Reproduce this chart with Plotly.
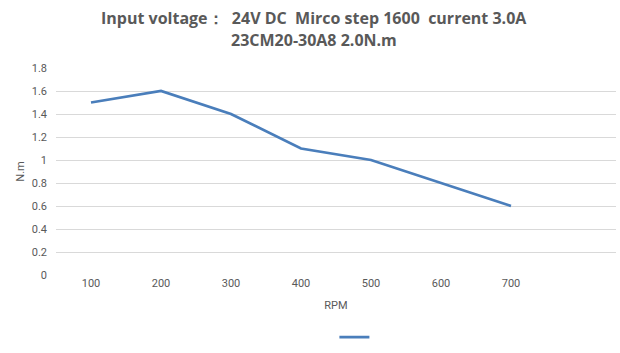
import plotly.graph_objects as go

rpm = ["100", "200", "300", "400", "500", "600", "700"]
torque = [1.5, 1.6, 1.4, 1.1, 1.0, 0.8, 0.6]
y_ticks = [0, 0.2, 0.4, 0.6, 0.8, 1.0, 1.2, 1.4, 1.6, 1.8]
y_labels = ["0", "0.2", "0.4", "0.6", "0.8", "1", "1.2", "1.4", "1.6", "1.8"]

title_lines = ["Input voltage：  24V DC  Mirco step 1600  current 3.0A", "23CM20-30A8 2.0N.m"]

fig = go.Figure()
fig.add_trace(go.Scatter(
    x=rpm, y=torque, mode="lines", name=" ",
    line=dict(color="#4A7EBB", width=2.75),
    showlegend=True,
))

grey = "#595959"
title_font = dict(size=16, color=grey, family="Open Sans, sans-serif", weight="bold")
for text, ypos in zip(title_lines, [1.2415, 1.135]):
    fig.add_annotation(text=text, xref="paper", yref="paper", x=0.461, y=ypos,
                       xanchor="center", yanchor="middle", showarrow=False, font=title_font)

fig.update_layout(
    width=620, height=353,
    margin=dict(l=56, r=4, t=68, b=78, autoexpand=False),
    paper_bgcolor="white", plot_bgcolor="white",
    font=dict(family="Liberation Sans Narrow, Roboto, sans-serif", color=grey, size=11),
    xaxis=dict(
        type="category", range=[-0.5, 7.5],
        showgrid=False, showline=False, zeroline=False, ticks="",
        tickfont=dict(size=11, color=grey),
        title=dict(text="RPM", font=dict(size=11, color=grey), standoff=12),
    ),
    yaxis=dict(
        range=[0, 1.8], tickvals=y_ticks, ticktext=y_labels,
        showgrid=True, gridcolor="#D9D9D9", gridwidth=1,
        zeroline=False, showline=False, ticks="",
        tickfont=dict(size=11, color=grey),
        ticklabelstandoff=8,
        title=dict(text="N.m", font=dict(size=11, color=grey), standoff=4),
    ),
    legend=dict(
        orientation="h", x=0.54, xanchor="center", y=-0.23, yanchor="top",
        itemwidth=30, font=dict(size=11),
    ),
)

fig.write_html("out.html")
